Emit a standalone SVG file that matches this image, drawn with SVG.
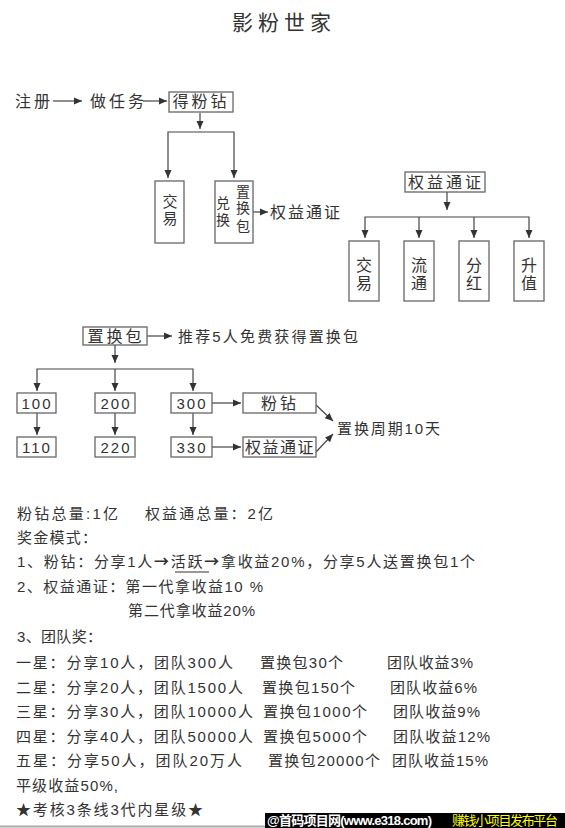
<svg xmlns="http://www.w3.org/2000/svg" width="565" height="828" viewBox="0 0 565 828">
<style>
text{font-family:"Liberation Sans","Noto Sans CJK SC",sans-serif;fill:#333;font-size:15px}
.b{fill:#fff;stroke:#666;stroke-width:1.3}
.c{fill:none;stroke:#444;stroke-width:1.2}
.m{text-anchor:middle}
.t16{font-size:16px;letter-spacing:3px}
.n{letter-spacing:2px}
.ar{font-family:"Noto Sans CJK SC",sans-serif;font-weight:bold}
</style>
<defs>
<marker id="ah" markerUnits="userSpaceOnUse" markerWidth="9" markerHeight="8" refX="8" refY="4" orient="auto">
<path d="M0,0.5 L8,4 L0,7.5 z" fill="#333"/>
</marker>
</defs>
<rect width="565" height="828" fill="#fff"/>
<text x="232" y="30" textLength="99" style="font-size:21px">影粉世家</text>

<g id="connectors">
<path class="c" d="M53,101 H82" marker-end="url(#ah)"/>
<path class="c" d="M143,101 H167" marker-end="url(#ah)"/>
<path class="c" d="M200,113 V129" marker-end="url(#ah)"/>
<path class="c" d="M200,132 H168 V178" marker-end="url(#ah)"/>
<path class="c" d="M200,132 H234 V178" marker-end="url(#ah)"/>
<path class="c" d="M253,212 H268" marker-end="url(#ah)"/>
<path class="c" d="M447,192 V210" marker-end="url(#ah)"/>
<path class="c" d="M447,217 H365 V238" marker-end="url(#ah)"/>
<path class="c" d="M447,217 H529 V238" marker-end="url(#ah)"/>
<path class="c" d="M419,217 V238" marker-end="url(#ah)"/>
<path class="c" d="M474,217 V238" marker-end="url(#ah)"/>
<path class="c" d="M147,336 H172" marker-end="url(#ah)"/>
<path class="c" d="M115,345 V363" marker-end="url(#ah)"/>
<path class="c" d="M115,369 H37 V391" marker-end="url(#ah)"/>
<path class="c" d="M115,369 H193 V391" marker-end="url(#ah)"/>
<path class="c" d="M115,369 V391" marker-end="url(#ah)"/>
<path class="c" d="M37,413 V435" marker-end="url(#ah)"/>
<path class="c" d="M115,413 V435" marker-end="url(#ah)"/>
<path class="c" d="M193,413 V435" marker-end="url(#ah)"/>
<path class="c" d="M212,403 H241" marker-end="url(#ah)"/>
<path class="c" d="M212,447 H241" marker-end="url(#ah)"/>
<path class="c" d="M316,405 L333,421" marker-end="url(#ah)"/>
<path class="c" d="M316,452 L333,434" marker-end="url(#ah)"/>
</g>

<g id="reg"><text x="15" y="107" class="t16">注册</text></g>
<g id="task"><text x="90" y="107" class="t16">做任务</text></g>
<g id="getfz"><rect class="b" x="169" y="92" width="64" height="20"/><text x="201" y="107" class="m t16">得粉钻</text></g>
<g id="jy1"><rect class="b" x="155" y="181" width="29" height="62"/><text x="170" y="207" class="m">交</text><text x="170" y="224" class="m">易</text></g>
<g id="dh"><rect class="b" x="215" y="181" width="38" height="62"/>
<text x="223" y="208" class="m" style="font-size:14px">兑</text><text x="223" y="225" class="m" style="font-size:14px">换</text>
<text x="243" y="197" class="m" style="font-size:14px">置</text><text x="243" y="213" class="m" style="font-size:14px">换</text><text x="243" y="231" class="m" style="font-size:14px">包</text></g>
<g id="qytz1"><text x="270" y="218" class="t16" style="letter-spacing:2px">权益通证</text></g>
<g id="qytz2"><rect class="b" x="405" y="172" width="80" height="20"/><text x="446" y="188" class="m t16">权益通证</text></g>
<g id="jy2"><rect class="b" x="349" y="241" width="30" height="60"/><text x="364" y="271" class="m" style="font-size:16px">交</text><text x="364" y="289" class="m" style="font-size:16px">易</text></g>
<g id="lt"><rect class="b" x="404" y="241" width="30" height="60"/><text x="419" y="271" class="m" style="font-size:16px">流</text><text x="419" y="289" class="m" style="font-size:16px">通</text></g>
<g id="fh"><rect class="b" x="459" y="241" width="30" height="60"/><text x="474" y="271" class="m" style="font-size:16px">分</text><text x="474" y="289" class="m" style="font-size:16px">红</text></g>
<g id="sz"><rect class="b" x="514" y="241" width="30" height="60"/><text x="529" y="271" class="m" style="font-size:16px">升</text><text x="529" y="289" class="m" style="font-size:16px">值</text></g>

<g id="zhb"><rect class="b" x="83" y="327" width="64" height="18"/><text x="116" y="342" class="m t16">置换包</text></g>
<g id="tj"><text x="178" y="342" class="n" textLength="182">推荐5人免费获得置换包</text></g>
<g id="b100"><rect class="b" x="17" y="393" width="39" height="20"/><text x="37" y="409" class="m n">100</text></g>
<g id="b200"><rect class="b" x="95" y="393" width="40" height="20"/><text x="116" y="409" class="m n">200</text></g>
<g id="b300"><rect class="b" x="171" y="393" width="41" height="20"/><text x="192" y="409" class="m n">300</text></g>
<g id="b110"><rect class="b" x="17" y="437" width="39" height="20"/><text x="37" y="453" class="m n">110</text></g>
<g id="b220"><rect class="b" x="95" y="437" width="40" height="20"/><text x="116" y="453" class="m n">220</text></g>
<g id="b330"><rect class="b" x="171" y="437" width="41" height="20"/><text x="192" y="453" class="m n">330</text></g>
<g id="fz"><rect class="b" x="243" y="393" width="73" height="20"/><text x="280" y="409" class="m t16">粉钻</text></g>
<g id="qytz3"><rect class="b" x="243" y="437" width="73" height="20"/><text x="280" y="453" class="m" style="font-size:16px;letter-spacing:1.5px">权益通证</text></g>
<g id="zq"><text x="337" y="434" textLength="103">置换周期10天</text></g>

<g id="notes">
<text x="17" y="519" textLength="101">粉钻总量:1亿</text>
<text x="145" y="519" textLength="128">权益通总量：2亿</text>
<text x="17" y="543" textLength="80">奖金模式：</text>
<text x="17" y="567" textLength="458">1、粉钻：分享1人<tspan class="ar">→</tspan>活跃<tspan class="ar">→</tspan>拿收益20%，分享5人送置换包1个</text>
<path d="M175,572 H209" stroke="#333" stroke-width="1"/>
<text x="17" y="592" textLength="246">2、权益通证：第一代拿收益10 %</text>
<text x="128" y="616" textLength="127">第二代拿收益20%</text>
<text x="17" y="642" textLength="85">3、团队奖：</text>
<text x="16" y="668" textLength="217">一星：分享10人，团队300人</text>
<text x="260" y="668" textLength="83">置换包30个</text>
<text x="387" y="668" textLength="86">团队收益3%</text>
<text x="16" y="693" textLength="227">二星：分享20人，团队1500人</text>
<text x="262" y="693" textLength="93">置换包150个</text>
<text x="390" y="693" textLength="87">团队收益6%</text>
<text x="16" y="717" textLength="237">三星：分享30人，团队10000人</text>
<text x="263" y="717" textLength="104">置换包1000个</text>
<text x="393" y="717" textLength="87">团队收益9%</text>
<text x="16" y="742" textLength="237">四星：分享40人，团队50000人</text>
<text x="263" y="742" textLength="104">置换包5000个</text>
<text x="393" y="742" textLength="97">团队收益12%</text>
<text x="16" y="766" textLength="226">五星：分享50人，团队20万人</text>
<text x="268" y="766" textLength="112">置换包20000个</text>
<text x="392" y="766" textLength="96">团队收益15%</text>
<text x="16" y="791" textLength="102">平级收益50%,</text>
<text x="16" y="815" textLength="187">★考核3条线3代内星级★</text>
</g>

<g id="banner">
<path d="M0,826.5 H265" stroke="#aaa" stroke-width="2"/>
<rect x="265" y="813" width="300" height="15" fill="#000"/>
<text x="267" y="825" textLength="165" style="fill:#fff;font-size:13px;font-weight:bold">@首码项目网(www.e318.com)</text>
<text x="452" y="825" textLength="106" style="fill:#ff0;font-size:13px">赚钱小项目发布平台</text>
</g>
</svg>
